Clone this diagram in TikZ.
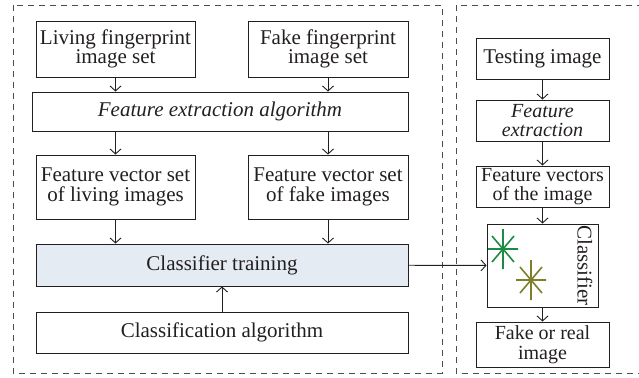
\documentclass[tikz,border=0pt]{standalone}
\usepackage{fontspec}
\setmainfont{Liberation Serif}
\usetikzlibrary{arrows.meta, positioning, calc}

\definecolor{ink}{HTML}{231F20}
\definecolor{trainblue}{HTML}{E4EBF3}
\definecolor{stargreen}{HTML}{1E8B45}
\definecolor{starolive}{HTML}{7E7E2B}

\begin{document}
\begin{tikzpicture}[
			x=1pt, y=-1pt,
			font=\fontsize{21}{19.5}\selectfont,
			box/.style={rectangle, draw=ink, text=ink, line width=0.9pt, inner sep=1pt, align=center},
			tight/.style={font=\fontsize{20}{19.5}\selectfont, inner sep=0pt},
			arrow/.style={-{Straight Barb[length=5pt, width=11pt]}, draw=ink, line width=0.9pt},
			frame/.style={draw=ink!80, line width=0.9pt, dash pattern=on 6pt off 5pt}
			]
			
			\useasboundingbox (0,0) rectangle (639,377);
			
			% the two dashed panels, the right one runs off the edge
			\draw[frame] (13,5) rectangle (442,373);
			\begin{scope}
				\clip (0,0) rectangle (639,377);
				\draw[frame] (456,5) rectangle (660,373);
			\end{scope}
			
			% training side
			\node[box, minimum width=159, minimum height=56] (living) at (115.5,49) {Living fingerprint\\image set};
			\node[box, minimum width=160, minimum height=56] (fakeset) at (328,49) {Fake fingerprint\\image set};
			\node[box, minimum width=376, minimum height=39] (extract) at (220,111.5) {\itshape Feature extraction algorithm};
			\node[box, minimum width=159, minimum height=64] (livingvec) at (115.5,187) {Feature vector set\\of living images};
			\node[box, minimum width=160, minimum height=64] (fakevec) at (328,187) {Feature vector set\\of fake images};
			\node[box, fill=trainblue, minimum width=372, minimum height=42] (train) at (222,265) {Classifier training};
			\node[box, minimum width=372, minimum height=41] (algo) at (222,332.5) {Classification algorithm};
			
			\draw[arrow] (living) -- (living|-extract.north);
			\draw[arrow] (fakeset) -- (fakeset|-extract.north);
			\draw[arrow] (extract.south-|living) -- (livingvec);
			\draw[arrow] (extract.south-|fakeset) -- (fakevec);
			\draw[arrow] (livingvec) -- (livingvec|-train.north);
			\draw[arrow] (fakevec) -- (fakevec|-train.north);
			\draw[arrow] (algo) -- (train);
			
			% testing side
			\node[box, minimum width=133, minimum height=41] (testimg) at (542.5,58.5) {Testing image};
			\node[box, tight, minimum width=133, minimum height=41] (featext) at (542.5,120.5) {\itshape Feature\\\itshape extraction};
			\node[box, tight, minimum width=133, minimum height=41] (featvec) at (542.5,186.5) {Feature vectors\\of the image};
			\node[box, minimum width=111, minimum height=83] (clf) at (542.5,265.5) {};
			\node[box, draw=none, rotate=-90] (clflabel) at (585,265.5) {Classifier};
			\node[box, tight, minimum width=133, minimum height=45] (result) at (542.5,344.5) {Fake or real\\image};
			
			% the two class markers inside the classifier
			\foreach \cx/\cy/\col in {503/249/stargreen, 531/280/starolive} {
				\draw[\col, line width=1.6pt] (\cx-15,\cy) -- (\cx+15,\cy) (\cx,\cy-20) -- (\cx,\cy+20)
					(\cx-11,\cy-13) -- (\cx+11,\cy+13) (\cx-11,\cy+13) -- (\cx+11,\cy-13);
			}
			
			\draw[arrow] (testimg) -- (featext);
			\draw[arrow] (featext) -- (featvec);
			\draw[arrow] (featvec) -- (clf);
			\draw[arrow] (clf) -- (result);
			\draw[arrow] (train) -- (clf);
		\end{tikzpicture}
\end{document}
